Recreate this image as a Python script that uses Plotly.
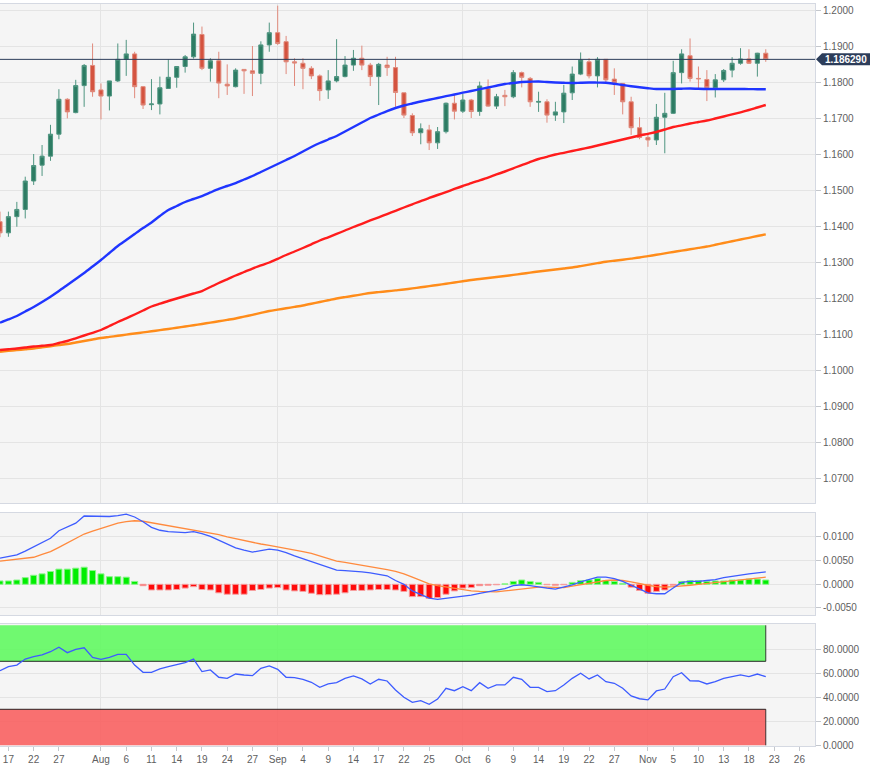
import pandas as pd
import plotly.graph_objects as go

# ---------------- data ----------------
dates = pd.bdate_range("2020-07-16", "2020-11-20")

open_ = [1.1412, 1.1381, 1.1426, 1.1446, 1.1525, 1.1569, 1.1594, 1.1655, 1.1752, 1.1715,
         1.1790, 1.1846, 1.1778, 1.1761, 1.1803, 1.1863, 1.1878, 1.1787, 1.1737, 1.1739,
         1.1782, 1.1813, 1.1843, 1.1870, 1.1932, 1.1838, 1.1859, 1.1794, 1.1787, 1.1835,
         1.1831, 1.1824, 1.1903, 1.1937, 1.1912, 1.1856, 1.1852, 1.1838, 1.1817, 1.1778,
         1.1803, 1.1815, 1.1847, 1.1866, 1.1847, 1.1815, 1.1847, 1.1840, 1.1770, 1.1707,
         1.1659, 1.1667, 1.1631, 1.1662, 1.1741, 1.1719, 1.1750, 1.1718, 1.1782, 1.1733,
         1.1763, 1.1759, 1.1826, 1.1810, 1.1744, 1.1745, 1.1708, 1.1717, 1.1770, 1.1822,
         1.1856, 1.1817, 1.1863, 1.1808, 1.1796, 1.1745, 1.1673, 1.1646, 1.1639, 1.1702,
         1.1713, 1.1826, 1.1873, 1.1810, 1.1807, 1.1784, 1.1806, 1.1833, 1.1852, 1.1864,
         1.1852, 1.1880]
high = [1.1440, 1.1440, 1.1467, 1.1537, 1.1600, 1.1625, 1.1681, 1.1780, 1.1755, 1.1806,
        1.1850, 1.1907, 1.1796, 1.1803, 1.1907, 1.1917, 1.1884, 1.1789, 1.1808, 1.1815,
        1.1863, 1.1844, 1.1875, 1.1965, 1.1954, 1.1866, 1.1884, 1.1849, 1.1838, 1.1836,
        1.1900, 1.1913, 1.1965, 1.2012, 1.1928, 1.1866, 1.1866, 1.1844, 1.1821, 1.1833,
        1.1919, 1.1872, 1.1889, 1.1901, 1.1853, 1.1853, 1.1870, 1.1870, 1.1770, 1.1713,
        1.1685, 1.1681, 1.1675, 1.1743, 1.1764, 1.1767, 1.1753, 1.1801, 1.1807, 1.1767,
        1.1778, 1.1833, 1.1829, 1.1814, 1.1773, 1.1752, 1.1745, 1.1792, 1.1843, 1.1882,
        1.1866, 1.1869, 1.1863, 1.1838, 1.1797, 1.1759, 1.1702, 1.1657, 1.1739, 1.1770,
        1.1859, 1.1891, 1.1921, 1.1843, 1.1833, 1.1822, 1.1836, 1.1869, 1.1894, 1.1891,
        1.1881, 1.1891]
low = [1.1369, 1.1370, 1.1398, 1.1421, 1.1514, 1.1539, 1.1581, 1.1641, 1.1699, 1.1713,
       1.1731, 1.1759, 1.1696, 1.1721, 1.1800, 1.1817, 1.1755, 1.1725, 1.1722, 1.1710,
       1.1782, 1.1784, 1.1826, 1.1865, 1.1833, 1.1801, 1.1755, 1.1764, 1.1785, 1.1767,
       1.1761, 1.1794, 1.1884, 1.1903, 1.1822, 1.1789, 1.1780, 1.1808, 1.1748, 1.1753,
       1.1799, 1.1813, 1.1831, 1.1833, 1.1789, 1.1736, 1.1817, 1.1731, 1.1700, 1.1650,
       1.1627, 1.1611, 1.1614, 1.1657, 1.1696, 1.1714, 1.1700, 1.1706, 1.1731, 1.1725,
       1.1733, 1.1755, 1.1785, 1.1731, 1.1717, 1.1687, 1.1692, 1.1686, 1.1750, 1.1819,
       1.1810, 1.1785, 1.1800, 1.1764, 1.1710, 1.1653, 1.1641, 1.1620, 1.1625, 1.1602,
       1.1711, 1.1796, 1.1801, 1.1778, 1.1747, 1.1757, 1.1800, 1.1813, 1.1848, 1.1850,
       1.1815, 1.1856]
close = [1.1381, 1.1426, 1.1446, 1.1525, 1.1568, 1.1594, 1.1655, 1.1752, 1.1717, 1.1790,
         1.1846, 1.1773, 1.1761, 1.1803, 1.1863, 1.1878, 1.1787, 1.1736, 1.1739, 1.1784,
         1.1813, 1.1843, 1.1870, 1.1933, 1.1838, 1.1859, 1.1797, 1.1789, 1.1833, 1.1831,
         1.1824, 1.1903, 1.1937, 1.1907, 1.1856, 1.1853, 1.1838, 1.1817, 1.1776, 1.1803,
         1.1815, 1.1847, 1.1866, 1.1847, 1.1815, 1.1849, 1.1840, 1.1771, 1.1708, 1.1659,
         1.1670, 1.1631, 1.1662, 1.1741, 1.1719, 1.1750, 1.1718, 1.1789, 1.1733, 1.1759,
         1.1759, 1.1826, 1.1813, 1.1745, 1.1746, 1.1708, 1.1717, 1.1769, 1.1822, 1.1861,
         1.1817, 1.1863, 1.1806, 1.1798, 1.1745, 1.1673, 1.1646, 1.1639, 1.1702, 1.1713,
         1.1826, 1.1878, 1.1810, 1.1809, 1.1784, 1.1806, 1.1832, 1.1852, 1.1864, 1.1852,
         1.1880, 1.18629]

sma50 = [1.11314, 1.11403, 1.1150, 1.11625, 1.1175, 1.11889, 1.12036, 1.12194, 1.12361, 1.12528,
         1.12694, 1.12875, 1.13056, 1.1325, 1.13444, 1.13611, 1.13778, 1.13944, 1.14097, 1.14278,
         1.14444, 1.14556, 1.14667, 1.1475, 1.14833, 1.14931, 1.15028, 1.15111, 1.15194, 1.15292,
         1.15389, 1.1550, 1.15611, 1.15722, 1.15833, 1.15944, 1.16069, 1.16194, 1.16306, 1.16403,
         1.1650, 1.16625, 1.1675, 1.16875, 1.1700, 1.17097, 1.17194, 1.17278, 1.17347, 1.17403,
         1.17458, 1.17508, 1.17556, 1.17606, 1.17653, 1.17703, 1.1775, 1.1780, 1.17847, 1.17897,
         1.17944, 1.17972, 1.1800, 1.18008, 1.18014, 1.1800, 1.17986, 1.17978, 1.17972, 1.1798,
         1.17986, 1.17983, 1.1798, 1.1795, 1.17917, 1.17883, 1.17853, 1.17828, 1.17806, 1.17806,
         1.17806, 1.17814, 1.17819, 1.17811, 1.17806, 1.17806, 1.17806, 1.17806, 1.17806, 1.17803,
         1.1780, 1.17797]
sma100 = [1.10556, 1.10578, 1.10597, 1.10625, 1.10653, 1.10672, 1.10694, 1.1075, 1.10806, 1.10881,
          1.10958, 1.11033, 1.11111, 1.11222, 1.11333, 1.11436, 1.11542, 1.11653, 1.11764, 1.11842,
          1.11917, 1.11986, 1.12056, 1.12125, 1.12194, 1.12306, 1.12417, 1.12519, 1.12625, 1.12722,
          1.12819, 1.12903, 1.12986, 1.13089, 1.13194, 1.13292, 1.13389, 1.13492, 1.13597, 1.13686,
          1.13778, 1.13875, 1.13972, 1.14061, 1.14153, 1.14242, 1.14333, 1.14422, 1.14514, 1.14603,
          1.14694, 1.14778, 1.14861, 1.14944, 1.15028, 1.15111, 1.15194, 1.15269, 1.15347, 1.15431,
          1.15514, 1.15603, 1.15694, 1.15778, 1.15861, 1.15922, 1.15986, 1.16033, 1.16083, 1.16131,
          1.16181, 1.16236, 1.16292, 1.16347, 1.16403, 1.16458, 1.16514, 1.16561, 1.16611, 1.16681,
          1.1675, 1.16797, 1.16847, 1.16889, 1.16931, 1.16986, 1.17042, 1.1710, 1.17158, 1.17222,
          1.17292, 1.17361]
sma200 = [1.10508, 1.10531, 1.10553, 1.10575, 1.10597, 1.10628, 1.10661, 1.10692, 1.10722, 1.10764,
          1.10806, 1.10847, 1.10889, 1.10919, 1.1095, 1.10983, 1.11014, 1.11044, 1.11075, 1.11108,
          1.11139, 1.11172, 1.11208, 1.11242, 1.11278, 1.11317, 1.11353, 1.11392, 1.11431, 1.11483,
          1.11533, 1.11586, 1.11639, 1.11678, 1.11714, 1.11753, 1.11792, 1.11839, 1.11889, 1.11936,
          1.11986, 1.12025, 1.12061, 1.1210, 1.12139, 1.12164, 1.12186, 1.12211, 1.12236, 1.12267,
          1.12297, 1.12331, 1.12361, 1.12394, 1.12431, 1.12464, 1.1250, 1.12528, 1.12556, 1.12583,
          1.12611, 1.12642, 1.12672, 1.12706, 1.12736, 1.12764, 1.12792, 1.12819, 1.12847, 1.12886,
          1.12928, 1.12967, 1.13006, 1.13036, 1.13064, 1.13094, 1.13125, 1.13164, 1.1320, 1.13239,
          1.13278, 1.13317, 1.13353, 1.13392, 1.13431, 1.13478, 1.13528, 1.13575, 1.13625, 1.13672,
          1.13722, 1.13769]

macd = [0.0055, 0.0058, 0.0062, 0.0070, 0.0079, 0.0088, 0.0097, 0.0113, 0.0121, 0.0129,
        0.0144, 0.0144, 0.0143, 0.0143, 0.0145, 0.0148, 0.0142, 0.0132, 0.0120, 0.0114,
        0.0111, 0.0110, 0.0109, 0.0111, 0.0107, 0.0101, 0.0093, 0.0084, 0.0077, 0.0072,
        0.0068, 0.0071, 0.0074, 0.0072, 0.0067, 0.0060, 0.0054, 0.0047, 0.0041, 0.0035,
        0.0030, 0.0029, 0.0028, 0.0026, 0.0024, 0.0021, 0.0018, 0.0008, 0.0000, -0.0014,
        -0.0022, -0.0029, -0.0032, -0.0030, -0.0027, -0.0025, -0.0023, -0.0019, -0.0016, -0.0013,
        -0.0009, -0.0003, -0.0001, -0.0003, -0.0006, -0.0008, -0.0010, -0.0006, -0.0001, 0.0005,
        0.0010, 0.0015, 0.0015, 0.0012, 0.0006, -0.0002, -0.0010, -0.0018, -0.0020, -0.0020,
        -0.0008, 0.0004, 0.0006, 0.0006, 0.0008, 0.0010, 0.0014, 0.0017, 0.0020, 0.0022,
        0.0024, 0.0026]
signal = [0.0049, 0.0051, 0.0053, 0.0055, 0.0057, 0.0063, 0.0069, 0.0078, 0.0087, 0.0097,
          0.0106, 0.0112, 0.0118, 0.0124, 0.0129, 0.0132, 0.0134, 0.0133, 0.0130, 0.0126,
          0.0123, 0.0120, 0.0118, 0.0115, 0.0112, 0.0109, 0.0105, 0.0100, 0.0096, 0.0093,
          0.0089, 0.0085, 0.0082, 0.0079, 0.0076, 0.0073, 0.0069, 0.0065, 0.0060, 0.0055,
          0.0049, 0.0046, 0.0043, 0.0040, 0.0037, 0.0035, 0.0031, 0.0027, 0.0022, 0.0015,
          0.0008, 0.0001, -0.0003, -0.0006, -0.0009, -0.0011, -0.0014, -0.0015, -0.0016, -0.0016,
          -0.0014, -0.0012, -0.0010, -0.0008, -0.0006, -0.0006, -0.0007, -0.0007, -0.0004, -0.0001,
          0.0002, 0.0005, 0.0008, 0.0009, 0.0008, 0.0005, 0.0001, -0.0002, -0.0005, -0.0006,
          -0.0005, -0.0004, -0.0002, 0.0000, 0.0002, 0.0004, 0.0006, 0.0007, 0.0009, 0.0011,
          0.0013, 0.0015]
hist = [0.0007, 0.0007, 0.0009, 0.0014, 0.0019, 0.0022, 0.0027, 0.0032, 0.0032, 0.0034,
        0.0036, 0.0029, 0.0022, 0.0016, 0.0016, 0.0015, 0.0006, -0.0003, -0.0012, -0.0012,
        -0.0012, -0.0011, -0.0008, -0.0005, -0.0011, -0.0012, -0.0018, -0.0021, -0.0021, -0.0021,
        -0.0013, -0.0011, -0.0008, -0.0007, -0.0012, -0.0014, -0.0015, -0.0019, -0.0022, -0.0022,
        -0.0021, -0.0018, -0.0013, -0.0013, -0.0012, -0.0011, -0.0011, -0.0012, -0.0015, -0.0026,
        -0.0026, -0.0030, -0.0028, -0.0021, -0.0014, -0.0008, -0.0007, -0.0003, -0.0002, -0.0001,
        0.0001, 0.0006, 0.0009, 0.0006, 0.0004, -0.0001, -0.0002, -0.0001, 0.0004, 0.0008,
        0.0009, 0.0012, 0.0008, 0.0006, 0.0002, -0.0006, -0.0013, -0.0019, -0.0015, -0.0012,
        -0.0002, 0.0006, 0.0008, 0.0008, 0.0006, 0.0007, 0.0007, 0.0009, 0.0009, 0.0011,
        0.0011, 0.0009]

rsi = [62.2, 65.5, 66.9, 71.9, 73.9, 75.3, 78.0, 81.7, 77.2, 80.0,
       81.3, 73.3, 71.7, 73.3, 75.8, 75.8, 66.9, 60.8, 60.8, 63.6,
       65.5, 66.9, 68.9, 71.9, 61.4, 62.8, 56.7, 55.8, 59.4, 58.6,
       58.0, 64.2, 66.1, 63.3, 56.7, 56.4, 55.0, 52.5, 48.3, 51.1,
       52.2, 55.8, 57.8, 55.3, 51.1, 55.0, 53.6, 46.1, 40.0, 35.8,
       37.2, 34.2, 38.5, 47.5, 45.5, 48.8, 45.5, 52.2, 47.5, 50.3,
       50.3, 56.7, 55.0, 48.3, 48.3, 44.7, 45.5, 50.3, 55.8, 60.0,
       55.3, 58.6, 53.0, 51.7, 47.5, 41.1, 38.8, 37.8, 45.3, 46.9,
       57.2, 60.5, 53.8, 53.6, 51.1, 53.0, 55.8, 57.2, 58.6, 57.2,
       59.4, 57.2]

tick_dates = ["2020-07-17", "2020-07-22", "2020-07-27", "2020-08-03", "2020-08-06", "2020-08-11",
              "2020-08-14", "2020-08-19", "2020-08-24", "2020-08-27", "2020-09-01", "2020-09-04",
              "2020-09-09", "2020-09-14", "2020-09-17", "2020-09-22", "2020-09-25", "2020-10-01",
              "2020-10-06", "2020-10-09", "2020-10-14", "2020-10-19", "2020-10-22", "2020-10-27",
              "2020-11-02", "2020-11-05", "2020-11-10", "2020-11-13", "2020-11-18", "2020-11-23",
              "2020-11-26"]
tick_text = ["17", "22", "27", "Aug", "6", "11", "14", "19", "24", "27", "Sep", "4", "9", "14",
             "17", "22", "25", "Oct", "6", "9", "14", "19", "22", "27", "Nov", "5", "10", "13",
             "18", "23", "26"]
month_starts = ["2020-08-03", "2020-09-01", "2020-10-01", "2020-11-02"]
macd_ticks = [-0.005, 0.0, 0.005, 0.010]
macd_tick_text = ["-0.0050", "0.0000", "0.0050", "0.0100"]
rsi_upper = [70, 100]
rsi_lower = [0, 30]

# ---------------- styles ----------------
FONT = "Liberation Sans, Arial, Helvetica, sans-serif"
BG = "#f5f5f5"
GRID = "#e4e4e4"
BORDER = "#d5d9e2"
TICK = "#c4c7cc"
TXT = "#606060"
NAVY = "#2c3d5a"
x_range = ["2020-07-16", "2020-11-27 20:24"]

fig = go.Figure()

fig.add_trace(go.Candlestick(
    x=dates, open=open_, high=high, low=low, close=close,
    increasing=dict(fillcolor="#2d7c63", line=dict(color="#4f9580", width=1)),
    decreasing=dict(fillcolor="#d4533f", line=dict(color="#e08a7c", width=1)),
    showlegend=False, hoverinfo="skip", xaxis="x", yaxis="y"))

for vals, col in [(sma200, "#ff8c1a"), (sma100, "#ff1c1c"), (sma50, "#1f35ff")]:
    fig.add_trace(go.Scatter(x=dates, y=vals, mode="lines",
                             line=dict(color=col, width=2.4, shape="spline", smoothing=0.8),
                             showlegend=False, hoverinfo="skip", xaxis="x", yaxis="y"))

hist_fill = ["#00ee00" if v >= 0 else "#ff0a0a" for v in hist]
hist_edge = ["#8af58a" if v >= 0 else "#f7a0a0" for v in hist]
fig.add_trace(go.Bar(x=dates, y=hist, width=0.72 * 86400000,
                     marker=dict(color=hist_fill, line=dict(color=hist_edge, width=1)),
                     showlegend=False, hoverinfo="skip", xaxis="x2", yaxis="y2"))
fig.add_trace(go.Scatter(x=dates, y=signal, mode="lines",
                         line=dict(color="#ff8a3d", width=1.3),
                         showlegend=False, hoverinfo="skip", xaxis="x2", yaxis="y2"))
fig.add_trace(go.Scatter(x=dates, y=macd, mode="lines",
                         line=dict(color="#3d5cff", width=1.3),
                         showlegend=False, hoverinfo="skip", xaxis="x2", yaxis="y2"))

fig.add_trace(go.Scatter(x=dates, y=rsi, mode="lines",
                         line=dict(color="#3d5cff", width=1.3),
                         showlegend=False, hoverinfo="skip", xaxis="x3", yaxis="y3"))

# RSI zones
last_day = dates[-1]
first_edge = "2020-07-10"
for (y0, y1), fill in [(rsi_upper, "rgba(100,248,100,0.92)"), (rsi_lower, "rgba(248,100,100,0.92)")]:
    fig.add_shape(type="rect", xref="x3", yref="y3", x0=first_edge, x1=last_day, y0=y0, y1=y1,
                  fillcolor=fill, line=dict(width=0), layer="between")
    fig.add_shape(type="line", xref="x3", yref="y3", x0=last_day, x1=last_day, y0=y0, y1=y1,
                  line=dict(color="rgba(30,30,30,0.85)", width=1), layer="between")
for yv in (rsi_upper[0], rsi_lower[1]):
    fig.add_shape(type="line", xref="x3", yref="y3", x0=first_edge, x1=last_day, y0=yv, y1=yv,
                  line=dict(color="rgba(20,20,20,0.9)", width=1), layer="between")

# current price line and label
last_close = close[-1]
fig.add_shape(type="line", xref="paper", yref="y", x0=0, x1=1, y0=last_close, y1=last_close,
              line=dict(color=NAVY, width=1), layer="above")
fig.add_shape(type="path", xref="paper", yref="y", xsizemode="pixel", ysizemode="pixel",
              xanchor=1, yanchor=last_close,
              path="M 1 0 L 7 6 L 55 6 L 55 -6 L 7 -6 Z",
              fillcolor=NAVY, line=dict(width=0), layer="above")
fig.add_annotation(xref="paper", yref="y", x=1, y=last_close, xshift=31, xanchor="center",
                   yanchor="middle", text="<b>%.6f</b>" % last_close, showarrow=False,
                   font=dict(family=FONT, size=10, color="white"))

common_x = dict(type="date", range=x_range, rangebreaks=[dict(bounds=["sat", "mon"])],
                showline=True, mirror=True, linecolor=BORDER, linewidth=1,
                zeroline=False, fixedrange=True)

fig.update_layout(
    width=883, height=775,
    margin=dict(l=0, r=68, t=4, b=29),
    paper_bgcolor="white", plot_bgcolor=BG,
    font=dict(family=FONT, size=10, color=TXT),
    showlegend=False,
    xaxis=dict(**common_x, anchor="y", tickmode="array", tickvals=month_starts,
               showticklabels=False, ticks="", showgrid=True, gridcolor=GRID,
               rangeslider=dict(visible=False)),
    xaxis2=dict(**common_x, anchor="y2", matches="x", tickmode="array", tickvals=month_starts,
                showticklabels=False, ticks="", showgrid=True, gridcolor=GRID),
    xaxis3=dict(**common_x, anchor="y3", matches="x", tickmode="array", tickvals=tick_dates,
                ticktext=tick_text, ticks="outside", ticklen=4, tickcolor=TICK,
                showgrid=False,
                minor=dict(tickmode="array", tickvals=month_starts, showgrid=True,
                           gridcolor=GRID, ticks="")),
    yaxis=dict(domain=[0.3275, 1.0], range=[1.063056, 1.201667], side="right",
               dtick=0.01, tick0=1.07, tickformat=".4f", showgrid=True, gridcolor=GRID,
               ticks="outside", ticklen=5, tickcolor=TICK, showline=True, mirror=True,
               linecolor=BORDER, zeroline=False, fixedrange=True),
    yaxis2=dict(domain=[0.17655, 0.31402], range=[-0.00648, 0.01504], side="right",
                tickmode="array", tickvals=macd_ticks, ticktext=macd_tick_text,
                showgrid=True, gridcolor=GRID, ticks="outside", ticklen=5, tickcolor=TICK,
                showline=True, mirror=True, linecolor=BORDER, zeroline=False, fixedrange=True),
    yaxis3=dict(domain=[0.0, 0.16442], range=[-0.6, 101.1], side="right",
                tickmode="array", tickvals=[0, 20, 40, 60, 80], tickformat=".4f",
                showgrid=True, gridcolor=GRID, ticks="outside", ticklen=5, tickcolor=TICK,
                showline=True, mirror=True, linecolor=BORDER, zeroline=False, fixedrange=True),
)

fig.write_html("out.html")
